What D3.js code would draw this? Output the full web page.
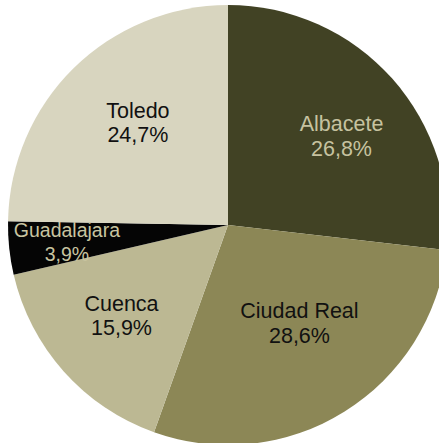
<!DOCTYPE html>
<html>
<head>
<meta charset="utf-8">
<script src="https://cdn.jsdelivr.net/npm/d3@7"></script>
<style>
  html, body { margin: 0; padding: 0; background: #fff; overflow: hidden; }
  #chart { width: 439px; height: 443px; }
</style>
</head>
<body>
<div id="chart"></div>
<script>
const provinces = ['Albacete', 'Ciudad Real', 'Cuenca', 'Guadalajara', 'Toledo'];
const shares = [26.8, 28.6, 15.9, 3.9, 24.7];
const sliceColors = ['#414224', '#8c8756', '#bcb893', '#050505', '#d8d5bf'];
const labelColors = ['#c6c2a0', '#111111', '#111111', '#c8c4a0', '#111111'];

const W = 439, H = 443;
const cx = 228, cy = 225, R = 220;

const svg = d3.select('#chart').append('svg')
    .attr('width', W).attr('height', H)
    .attr('viewBox', `0 0 ${W} ${H}`);

const g = svg.append('g').attr('transform', `translate(${cx},${cy})`);

const data = provinces.map((p, i) => ({ name: p, value: shares[i], i }));

const pie = d3.pie().sort(null).value(d => d.value);
const arcs = pie(data);

const arc = d3.arc().innerRadius(0).outerRadius(R);

g.selectAll('path.slice').data(arcs).enter().append('path')
    .attr('class', 'slice')
    .attr('d', arc)
    .attr('fill', d => sliceColors[d.data.i]);

// label placement tweaks (radius + nudge), roughly as in the original
const labelR = { 'Ciudad Real': 122, 'Guadalajara': 162 };
const nudge = { 'Toledo': [8, -3], 'Albacete': [9, 4], 'Ciudad Real': [7, -6], 'Cuenca': [-2, -3] };
const fontSize = { 'Guadalajara': 19.5 };

const fmt = v => v.toFixed(1).replace('.', ',') + '%';

arcs.forEach(d => {
    const r = labelR[d.data.name] || 140;
    const a = (d.startAngle + d.endAngle) / 2;
    const [nx, ny] = nudge[d.data.name] || [0, 0];
    const x = r * Math.sin(a) + nx, y = -r * Math.cos(a) + ny;
    const fs = fontSize[d.data.name] || 21.5;
    const t = g.append('text')
        .attr('text-anchor', 'middle')
        .attr('font-family', "'Liberation Sans', Arial, sans-serif")
        .attr('font-size', fs)
        .attr('fill', labelColors[d.data.i]);
    t.append('tspan').attr('x', x).attr('y', y - 12).attr('dy', '0.35em').text(d.data.name);
    t.append('tspan').attr('x', x).attr('y', y + 12.5).attr('dy', '0.35em').text(fmt(d.data.value));
});
</script>
</body>
</html>
